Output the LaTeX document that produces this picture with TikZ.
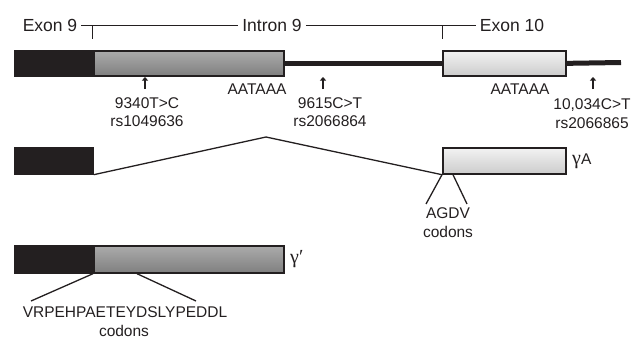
\documentclass[tikz,border=0pt]{standalone}
\usepackage{fontspec}
\setmainfont{Liberation Sans}
\newfontfamily\greekfont{Liberation Serif}
\usetikzlibrary{shadows,arrows.meta}
\definecolor{ink}{HTML}{231F20}
\begin{document}
\begin{tikzpicture}[x=1pt,y=-1pt,
  box/.style={rectangle, inner sep=0, anchor=north west, line width=1.7pt, draw=ink,
    drop shadow={shadow xshift=1.2pt, shadow yshift=-1.2pt, opacity=.3}},
  darkbox/.style={box, fill=ink},
  graybox/.style={box, top color=black!33, middle color=black!42, bottom color=black!50},
  lightbox/.style={box, top color=black!5, middle color=black!13, bottom color=black!20},
  lab/.style={font=\fontsize{15.5}{18}\selectfont, inner sep=0, text=ink},
  head/.style={font=\fontsize{17.5}{20}\selectfont, inner sep=0, inner xsep=4pt, text=ink},
  greek/.style={font=\fontsize{20}{22}\greekfont, inner sep=0, text=ink},
  bracket/.style={line width=0.9pt, draw=ink},
  intron/.style={line width=5pt, draw=ink},
  conn/.style={line width=1.3pt, draw=ink},
  snp/.style={line width=2.2pt, draw=ink, -{Triangle[length=3.5pt,width=6pt]}}
]
\useasboundingbox (0,0) rectangle (639,340);

% header
\node[head] (h9) at (50,25) {Exon 9};
\node[head] (hi) at (272,25) {Intron 9};
\node[head] (h10) at (512,25) {Exon 10};
\draw[bracket] (h9.east) -- (hi.west);
\draw[bracket] (hi.east) -- (h10.west);
\coordinate (tk1) at (92,25);
\coordinate (tk2) at (442,25);
\draw[bracket] (tk1) -- ++(0,14);
\draw[bracket] (tk2) -- ++(0,14);

% row 1
\node[darkbox, minimum width=79pt, minimum height=25pt] (b1) at (14,50) {};
\node[graybox, minimum width=190pt, minimum height=25pt] (g1) at (93,50) {};
\node[lightbox, minimum width=123pt, minimum height=25pt] (e1) at (442,50) {};
\coordinate (tail) at (621,62.5);
\draw[intron] (g1.east) -- (e1.west);
\draw[intron] (e1.east) -- (tail);

\coordinate (a1) at (145,89);
\coordinate (a2) at (323,89);
\coordinate (a3) at (593,89);
\draw[snp] (a1) -- ++(0,-12);
\draw[snp] (a2) -- ++(0,-12);
\draw[snp] (a3) -- ++(0,-12);

\node[lab] (s1a) at (147,103.5) {9340T>C};
\node[lab] (s1b) at (147,121.5) {rs1049636};
\node[lab] (p1) at (257,89) {AATAAA};
\node[lab] (s2a) at (330,103.5) {9615C>T};
\node[lab] (s2b) at (330,121.5) {rs2066864};
\node[lab] (p2) at (520,89) {AATAAA};
\node[lab] (s3a) at (592,105) {10,034C>T};
\node[lab] (s3b) at (592,123.5) {rs2066865};

% row 2
\node[darkbox, minimum width=78pt, minimum height=26pt] (b2) at (14,147) {};
\node[lightbox, minimum width=123pt, minimum height=26pt] (e2) at (442,147) {};
\coordinate (peak) at (266,137);
\draw[conn] (b2.south east) -- (peak) -- (e2.south west);
\node[lab, anchor=west] (gA) at (572,161) {{\fontsize{20}{22}\greekfont γ}A};
\coordinate (ag1) at (426,204);
\coordinate (ag2) at (467,204);
\draw[conn] (e2.south west) -- (ag1);
\draw[conn] ([xshift=11pt]e2.south west) -- (ag2);
\node[lab] (agdv) at (448,213) {AGDV};
\node[lab] (cod1) at (448,232) {codons};

% row 3
\node[darkbox, minimum width=79pt, minimum height=27pt] (b3) at (14,245) {};
\node[graybox, minimum width=190pt, minimum height=27pt] (g3) at (93,245) {};
\node[greek, anchor=west] (gp) at (290,259) {γ′};
\coordinate (v1) at (31,301);
\coordinate (v2) at (196,301);
\draw[conn] (g3.south west) -- (v1);
\draw[conn] ([xshift=44pt]g3.south west) -- (v2);
\node[lab] (seq) at (125,312) {VRPEHPAETEYDSLYPEDDL};
\node[lab] (cod2) at (124,331) {codons};
\end{tikzpicture}
\end{document}
